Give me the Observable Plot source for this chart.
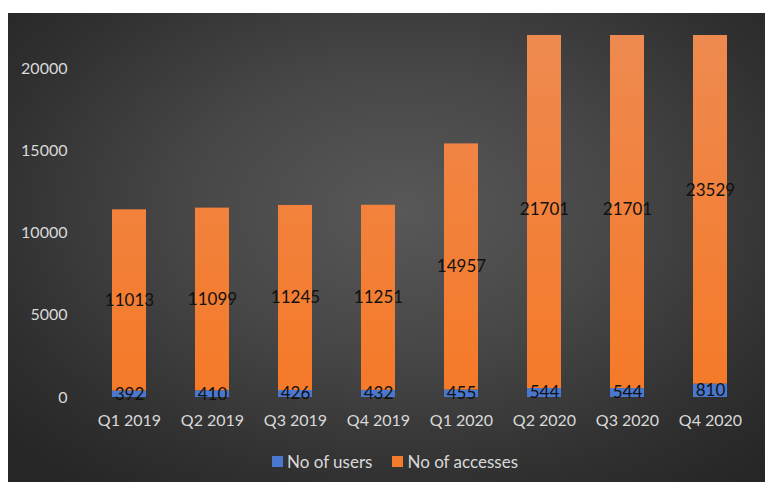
<!DOCTYPE html>
<html>
<head>
<meta charset="utf-8">
<script src="https://cdn.jsdelivr.net/npm/d3@7"></script>
<script src="https://cdn.jsdelivr.net/npm/@observablehq/plot@0.6"></script>
<style>
  html, body { margin: 0; padding: 0; background: #fff; }
  #wrap { position: relative; width: 765px; height: 482px; background: #fff; overflow: hidden; font-family: Lato, "Open Sans", sans-serif; }
  #bg { position: absolute; left: 8px; top: 13px; right: 0; bottom: 0;
        background: radial-gradient(ellipse 70% 75% at 52% 42%, #585858 0%, #474747 40%, #2f2f2f 80%, #262626 100%); }
  #chart { position: absolute; left: 0; top: 0; }
  #legend { position: absolute; left: 0; width: 765px; top: 450px; height: 22px; display: flex; justify-content: center; align-items: center; gap: 20px; color: #d9d9d9; font-size: 17px; padding-left: 25px; box-sizing: border-box; }
  .item { display: flex; align-items: center; gap: 4px; }
  .sw { width: 11px; height: 11px; display: inline-block; }
</style>
</head>
<body>
<div id="wrap">
  <div id="bg"></div>
  <div id="chart"></div>
  <div id="legend"></div>
</div>
<script>
const quarters = ["Q1 2019", "Q2 2019", "Q3 2019", "Q4 2019", "Q1 2020", "Q2 2020", "Q3 2020", "Q4 2020"];
const users = [392, 410, 426, 432, 455, 544, 544, 810];
const accesses = [11013, 11099, 11245, 11251, 14957, 21701, 21701, 23529];
const seriesNames = ["No of users", "No of accesses"];
const seriesColors = ["#4a78cf", "url(#orangeGrad)"];
const legendColors = ["#4a78cf", "#f47b2b"];
const yTicks = [0, 5000, 10000, 15000, 20000];

const rows = [];
quarters.forEach((q, i) => rows.push({quarter: q, series: seriesNames[0], value: users[i]}));
quarters.forEach((q, i) => rows.push({quarter: q, series: seriesNames[1], value: accesses[i]}));

const stackOpts = {x: "quarter", y: "value", z: "series", order: null};

const chart = Plot.plot({
  width: 765,
  height: 440,
  marginTop: 35,
  marginBottom: 43,
  marginLeft: 85,
  marginRight: 12,
  style: {background: "transparent", fontFamily: "Lato, 'Open Sans', sans-serif", fontSize: "16px", color: "#d9d9d9", overflow: "visible"},
  x: {domain: quarters, paddingInner: 0.593, paddingOuter: 0.2965, label: null, tickSize: 0, tickPadding: 17},
  y: {domain: [0, 22000], ticks: yTicks, tickFormat: d => String(d), label: null, tickSize: 0, tickPadding: 18},
  color: {domain: seriesNames, range: seriesColors},
  marks: [
    Plot.ruleY(yTicks, {stroke: "#ececec", strokeWidth: 2, x1: quarters[0], x2: quarters[quarters.length-1], insetLeft: -41.75, insetRight: -41.75}),
    Plot.barY(rows, Plot.stackY({...stackOpts, fill: "series", clip: true})),
    Plot.text(rows, Plot.stackY({...stackOpts, text: d => String(d.value), fill: "#111", fontSize: 17}))
  ]
});

// gradient for the orange series
const ns = "http://www.w3.org/2000/svg";
const defs = document.createElementNS(ns, "defs");
defs.innerHTML = '<linearGradient id="orangeGrad" gradientUnits="userSpaceOnUse" x1="0" y1="35" x2="0" y2="397">' +
  '<stop offset="0" stop-color="#ee8a50"/><stop offset="0.5" stop-color="#f2813b"/><stop offset="1" stop-color="#f57a28"/></linearGradient>';
chart.insertBefore(defs, chart.firstChild);

document.getElementById("chart").appendChild(chart);

const legend = document.getElementById("legend");
seriesNames.forEach((name, i) => {
  const item = document.createElement("span");
  item.className = "item";
  const sw = document.createElement("span");
  sw.className = "sw";
  sw.style.background = legendColors[i];
  const t = document.createElement("span");
  t.textContent = name;
  item.appendChild(sw);
  item.appendChild(t);
  legend.appendChild(item);
});
</script>
</body>
</html>
